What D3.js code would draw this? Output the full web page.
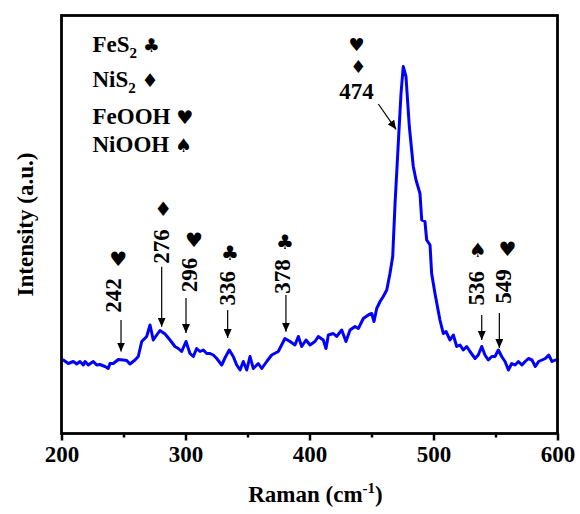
<!DOCTYPE html>
<html>
<head>
<meta charset="utf-8">
<script src="https://cdn.jsdelivr.net/npm/d3@7"></script>
<style>
  html, body { margin: 0; padding: 0; background: #fff; }
  svg { display: block; }
  text { font-family: "Liberation Serif", "Times New Roman", serif; font-weight: bold; fill: #000; }
  .sym { font-family: "DejaVu Sans", sans-serif; font-weight: normal; }
</style>
</head>
<body>
<svg id="chart" width="580" height="514"></svg>
<script>
// ---------- data ----------
const ramanShift = [
  201.5,205.5,209.5,212.3,214.9,217.6,219,221.6,225.6,228.4,231,235.1,237.7,239.1,241.8,245.8,249.8,252.6,255.2,259.3,
  261.9,264.7,268.7,271.4,274,276.8,279.4,283.5,287.5,291.5,294.2,296.9,300.4,303.6,306.3,309,311.7,314.4,317.1,319.8,
  322.4,325.2,329.2,332,335.3,338.5,341.3,344,346.6,349.4,352,354.7,358.7,361.5,365.5,369.5,374.8,380.2,384.3,388.3,
  391,393.7,397.2,400.4,404.4,407.1,411.1,413.3,415.2,419.2,421.9,426,429.4,432.7,436.7,439.4,443.4,447.4,450.2,452,
  454.2,456.9,459.5,462.3,464.9,467.1,469,471.6,473.8,475.6,477.8,480.5,483.7,485.9,489.1,490.5,493.1,494.5,497.2,498.5,
  501.2,505.2,507.9,510.1,513.3,516,518.7,521.4,524,526.8,529.4,533.5,536.1,538.9,541.5,544.2,547,549.6,552.3,555,
  557.7,560.4,563.1,565.8,568.5,571.3,573.9,576.6,579.4,582.1,584.8,587.5,590.2,592.9,595.6,598.3,600
];
const intensity = [
  73.5,70,72,69.5,72,68.5,72,68.5,72,68.5,69,67,65,70,70,74,73.5,73,69.5,73.5,
  77,92,97,108.5,93.5,98.5,103,99.5,93.5,87,85,82,92,80,77,85,82,83.5,80,80,
  78.5,75,68.5,76,83.5,77,68.5,63.5,72,63.5,77,65,70,65,72,78.5,82,95,92,88.5,
  97,87,93.5,88.5,92,97,93.5,85,98.5,100,97,103.5,92,103.5,107,105,115,118.5,120,112,
  125,132,137,143.5,160,177,230,290,340,367,357,307,267,253.5,240,213.5,212,193.5,188.5,160,
  140,113.5,100,102,93.5,98.5,87,88.5,83.5,87,82,75,78.5,87,78.5,73.5,77,77,83.5,77,
  72,63.5,70,68.5,72,68.5,72,75,73.5,67,72,73.5,75,78.5,72,73.5,73.5
];

const xTicks = [200, 300, 400, 500, 600];
const xMinorTicks = [250, 350, 450, 550];

// vertical peak annotations (data units)
const peakLabels  = ["242", "276", "296", "336", "378", "536", "549"];
const peakSymbols = ["\u2665", "\u2666", "\u2665", "\u2663", "\u2663", "\u2660", "\u2665"];
const arrowX      = [248, 280.8, 300.4, 334, 381, 538.9, 553.1];
const arrowTop    = [113.5, 166.8, 135.5, 123.5, 138.5, 118.5, 120.5];
const arrowTip    = [82, 106.8, 100.5, 95.5, 101.8, 93.5, 85.5];
const labelX      = [241.8, 280.2, 302.8, 333.9, 377.6, 534.3, 556];
const labelY      = [138, 187, 158.5, 145.2, 157, 145.2, 147];
const symbolX     = [245.8, 282.1, 306.9, 335.9, 380.2, 535.9, 559.7];
const symbolY     = [174.5, 224.5, 193.5, 180.5, 191.5, 183.5, 184.5];

// main peak annotation (474)
const mainPeakLabel = "474";
const mainPeakSymbols = ["\u2665", "\u2666"];
const mainArrowFrom = [455.5, 329.5];
const mainArrowTo = [469.8, 304.2];
const mainLabelPos = [438, 334.5];
const mainSymbolPos = [[438, 388.5], [439.4, 366.5]];

// legend
const legendNames = ["FeS", "NiS", "FeOOH", "NiOOH"];
const legendSubs = ["2", "2", "", ""];
const legendSymbols = ["\u2663", "\u2666", "\u2665", "\u2660"];

// ---------- chart ----------
const svg = d3.select("#chart");
const mLeft = 61.5, mRight = 557.5, mTop = 15.5, mBottom = 433.5;

const x = d3.scaleLinear().domain([200, 600]).range([mLeft, mRight]);
const y = d3.scaleLinear().domain([0, 418]).range([mBottom, mTop]);

// arrow marker
const defs = svg.append("defs");
defs.append("marker")
  .attr("id", "arrowhead")
  .attr("markerUnits", "userSpaceOnUse")
  .attr("markerWidth", 10).attr("markerHeight", 8)
  .attr("refX", 9).attr("refY", 4)
  .attr("orient", "auto")
  .append("path").attr("d", "M0,0 L9,4 L0,8 Z").attr("fill", "#000");

// data line
svg.append("path")
  .datum(d3.zip(ramanShift, intensity))
  .attr("fill", "none")
  .attr("stroke", "#0000ff")
  .attr("stroke-width", 3)
  .attr("stroke-linejoin", "round")
  .attr("stroke-linecap", "round")
  .attr("d", d3.line().x(d => x(d[0])).y(d => y(d[1])));

// x axis (major)
const xAxis = svg.append("g")
  .attr("transform", `translate(0,${mBottom})`)
  .call(d3.axisBottom(x).tickValues(xTicks).tickSize(7).tickPadding(5).tickFormat(d3.format("d")));
xAxis.select(".domain").remove();
xAxis.selectAll(".tick line").attr("stroke", "#000").attr("stroke-width", 2.5);
xAxis.selectAll(".tick text")
  .attr("font-family", "Liberation Serif, Times New Roman, serif")
  .attr("font-weight", "bold").attr("font-size", 23).attr("fill", "#000");

// x axis (minor)
const xMinor = svg.append("g")
  .attr("transform", `translate(0,${mBottom})`)
  .call(d3.axisBottom(x).tickValues(xMinorTicks).tickSize(4).tickFormat(""));
xMinor.select(".domain").remove();
xMinor.selectAll(".tick line").attr("stroke", "#000").attr("stroke-width", 2.5);

// frame
svg.append("rect")
  .attr("x", mLeft).attr("y", mTop)
  .attr("width", mRight - mLeft).attr("height", mBottom - mTop)
  .attr("fill", "none").attr("stroke", "#000").attr("stroke-width", 2.8);

// axis titles
const xt = svg.append("text")
  .attr("x", (mLeft + mRight) / 2 + 6).attr("y", 502)
  .attr("text-anchor", "middle").attr("font-size", 23);
xt.append("tspan").text("Raman (cm");
xt.append("tspan").attr("font-size", 15).attr("dy", -9).text("-1");
xt.append("tspan").attr("dy", 9).text(")");

svg.append("text")
  .attr("transform", `translate(33,${(mTop + mBottom) / 2}) rotate(-90)`)
  .attr("text-anchor", "middle").attr("font-size", 23)
  .text("Intensity (a.u.)");

// legend
const legendBaselines = [52, 87, 124, 152];
legendNames.forEach((name, i) => {
  const t = svg.append("text").attr("x", 92.5).attr("y", legendBaselines[i]).attr("font-size", 23);
  t.append("tspan").text(name);
  if (legendSubs[i]) {
    t.append("tspan").attr("font-size", 15).attr("dy", 6).text(legendSubs[i]);
    t.append("tspan").attr("dy", -6).text(" ");
  } else {
    t.append("tspan").text(" ");
  }
  t.append("tspan").attr("class", "sym").attr("font-size", 19).text(legendSymbols[i]);
});

// vertical peak annotations
const ann = svg.append("g");
peakLabels.forEach((lab, i) => {
  ann.append("line")
    .attr("x1", x(arrowX[i])).attr("x2", x(arrowX[i]))
    .attr("y1", y(arrowTop[i])).attr("y2", y(arrowTip[i]))
    .attr("stroke", "#000").attr("stroke-width", 1.2)
    .attr("marker-end", "url(#arrowhead)");
  ann.append("text")
    .attr("transform", `translate(${x(labelX[i])},${y(labelY[i])}) rotate(-90)`)
    .attr("text-anchor", "middle").attr("dy", "0.34em").attr("font-size", 23)
    .text(lab);
  ann.append("text")
    .attr("class", "sym")
    .attr("x", x(symbolX[i])).attr("y", y(symbolY[i]))
    .attr("text-anchor", "middle").attr("dy", "0.35em").attr("font-size", 20)
    .text(peakSymbols[i]);
});

// main peak annotation
ann.append("line")
  .attr("x1", x(mainArrowFrom[0])).attr("y1", y(mainArrowFrom[1]))
  .attr("x2", x(mainArrowTo[0])).attr("y2", y(mainArrowTo[1]))
  .attr("stroke", "#000").attr("stroke-width", 1.2)
  .attr("marker-end", "url(#arrowhead)");
ann.append("text")
  .attr("x", x(mainLabelPos[0])).attr("y", y(mainLabelPos[1]))
  .attr("text-anchor", "middle").attr("font-size", 23)
  .text(mainPeakLabel);
mainPeakSymbols.forEach((s, i) => {
  ann.append("text")
    .attr("class", "sym")
    .attr("x", x(mainSymbolPos[i][0])).attr("y", y(mainSymbolPos[i][1]))
    .attr("text-anchor", "middle").attr("dy", "0.35em").attr("font-size", 18)
    .text(s);
});
</script>
</body>
</html>
